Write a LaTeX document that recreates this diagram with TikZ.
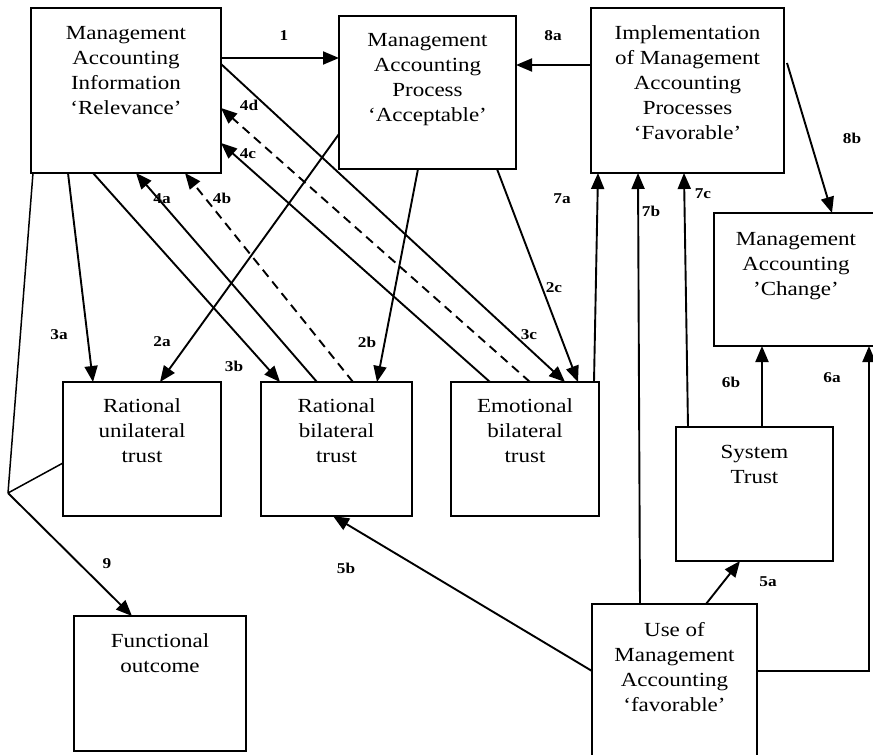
\documentclass[tikz,border=0pt]{standalone}
\usepackage{fontspec}
\setmainfont[FakeStretch=1.15]{Liberation Serif}
\usetikzlibrary{arrows.meta}

\tikzset{
  box/.style={draw, line width=1.6pt, anchor=north west, inner sep=0pt, outer sep=0pt},
  txt/.style={anchor=north, align=center, inner sep=0pt,
    font=\fontsize{20pt}{25pt}\selectfont},
  lab/.style={inner sep=0pt, font=\fontsize{15pt}{17pt}\selectfont\bfseries},
  conn/.style={line width=1.9pt},
  arr/.style={conn, -{Triangle[length=16pt, width=13pt]}},
  darr/.style={arr, dash pattern=on 9pt off 6pt},
}

\begin{document}
\begin{tikzpicture}[x=1pt, y=-1pt]
\useasboundingbox (0,0) rectangle (873,755);
\clip (0,0) rectangle (873,755);
\fill[white] (0,0) rectangle (873,755);

% boxes
\node[box, minimum width=190pt, minimum height=165pt] (mai) at (31,8) {};
\node[box, minimum width=177pt, minimum height=153pt] (map) at (339,16) {};
\node[box, minimum width=193pt, minimum height=165pt] (imp) at (591,8) {};
\node[box, minimum width=164pt, minimum height=133pt] (chg) at (714,213) {};
\node[box, minimum width=158pt, minimum height=134pt] (ru) at (63,382) {};
\node[box, minimum width=151pt, minimum height=134pt] (rb) at (261,382) {};
\node[box, minimum width=148pt, minimum height=134pt] (eb) at (451,382) {};
\node[box, minimum width=157pt, minimum height=134pt] (st) at (676,427) {};
\node[box, minimum width=165pt, minimum height=170pt] (use) at (592,604) {};
\node[box, minimum width=172pt, minimum height=135pt] (fo) at (74,616) {};

% box texts
\node[txt] (maiT) at ([yshift=-18pt]mai.north) {Management\\Accounting\\Information\\‘Relevance’};
\node[txt] (mapT) at ([yshift=-17pt]map.north) {Management\\Accounting\\Process\\‘Acceptable’};
\node[txt] (impT) at ([yshift=-17pt]imp.north) {Implementation\\of Management\\Accounting\\Processes\\‘Favorable’};
\node[txt] (chgT) at ([yshift=-19pt]chg.north) {Management\\Accounting\\’Change’};
\node[txt] (ruT) at ([yshift=-16pt]ru.north) {Rational\\unilateral\\trust};
\node[txt] (rbT) at ([yshift=-16pt]rb.north) {Rational\\bilateral\\trust};
\node[txt] (ebT) at ([yshift=-16pt]eb.north) {Emotional\\bilateral\\trust};
\node[txt] (stT) at ([yshift=-18pt]st.north) {System\\Trust};
\node[txt] (useT) at ([yshift=-18pt]use.north) {Use of\\Management\\Accounting\\‘favorable’};
\node[txt] (foT) at ([yshift=-17pt]fo.north) {Functional\\outcome};

% junction below the information box
\coordinate (j) at (8,493);

% connectors
\draw[arr] ([yshift=-50pt]mai.north east) -- ([yshift=-42pt]map.north west);
\draw[arr] ([yshift=-57pt]imp.north west) -- ([yshift=-49pt]map.north east);
\draw[arr] ([xshift=3pt, yshift=-55pt]imp.north east) -- ([xshift=118pt]chg.north west);

\draw[arr] ([xshift=37pt]mai.south west) -- ([xshift=30pt]ru.north west);
\draw[arr] ([xshift=62pt]mai.south west) -- ([xshift=19pt]rb.north west);
\draw[arr] ([yshift=-56pt]mai.north east) -- ([xshift=114pt]eb.north west);

\draw[arr] ([xshift=56pt]rb.north west) -- ([xshift=105pt]mai.south west);
\draw[darr] ([xshift=92pt]rb.north west) -- ([xshift=154pt]mai.south west);
\draw[arr] ([xshift=39pt]eb.north west) -- ([yshift=30pt]mai.south east);
\draw[darr] ([xshift=79pt]eb.north west) -- ([yshift=65pt]mai.south east);

\draw[arr] ([yshift=35pt]map.south west) -- ([xshift=97pt]ru.north west);
\draw[arr] ([xshift=79pt]map.south west) -- ([xshift=116pt]rb.north west);
\draw[arr] ([xshift=158pt]map.south west) -- ([xshift=127pt]eb.north west);

\draw[arr] ([xshift=-5pt]eb.north east) -- ([xshift=7pt]imp.south west);
\draw[arr] ([xshift=48pt]use.north west) -- ([xshift=47pt]imp.south west);
\draw[arr] ([xshift=12pt]st.north west) -- ([xshift=93pt]imp.south west);

\draw[arr] ([xshift=86pt]st.north west) -- ([xshift=48pt]chg.south west);
\draw[arr] ([yshift=-67pt]use.north east) -| ([xshift=155pt]chg.south west);

\draw[arr] ([xshift=114pt]use.north west) -- ([xshift=64pt]st.south west);
\draw[arr] ([yshift=-67pt]use.north west) -- ([xshift=72pt]rb.south west);

\draw[conn, line width=1.5pt] ([xshift=2pt]mai.south west) -- (j);
\draw[conn, line width=1.5pt] ([yshift=53pt]ru.south west) -- (j);
\draw[arr] (j) -- ([xshift=58pt]fo.north west);

% connector labels
\node[lab] (l1) at (284,36) {1};
\node[lab] (l8a) at (553,36) {8a};
\node[lab] (l8b) at (852,138) {8b};
\node[lab] (l3a) at (59,335) {3a};
\node[lab] (l2a) at (162,342) {2a};
\node[lab] (l3b) at (234,366) {3b};
\node[lab] (l2b) at (367,342) {2b};
\node[lab] (l4a) at (162,199) {4a};
\node[lab] (l4b) at (222,198) {4b};
\node[lab] (l4c) at (248,154) {4c};
\node[lab] (l4d) at (249,105) {4d};
\node[lab] (l2c) at (554,288) {2c};
\node[lab] (l3c) at (529,335) {3c};
\node[lab] (l7a) at (562,199) {7a};
\node[lab] (l7b) at (651,211) {7b};
\node[lab] (l7c) at (703,194) {7c};
\node[lab] (l6b) at (731,382) {6b};
\node[lab] (l6a) at (832,378) {6a};
\node[lab] (l5a) at (768,582) {5a};
\node[lab] (l5b) at (346,568) {5b};
\node[lab] (l9) at (107,564) {9};
\end{tikzpicture}
\end{document}
